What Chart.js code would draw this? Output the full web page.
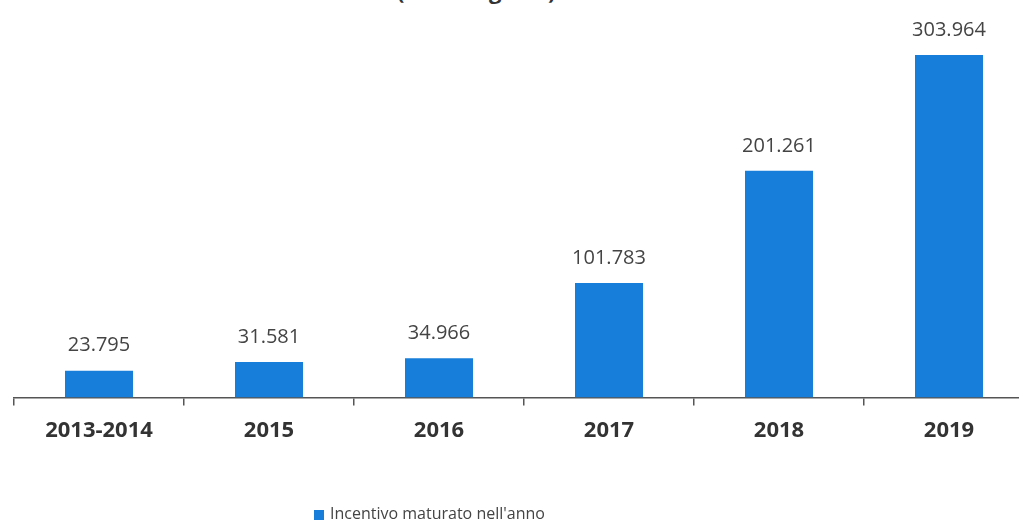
<!DOCTYPE html>
<html>
<head>
<meta charset="utf-8">
<script src="https://cdn.jsdelivr.net/npm/chart.js@4"></script>
<style>
html, body { margin: 0; padding: 0; background: #fff; overflow: hidden; }
#wrap { position: relative; width: 1019px; height: 521px; overflow: hidden; }
#box { position: absolute; left: 0; top: 0; width: 1034px; height: 521px; }
#title { position: absolute; top: -25px; left: 397px; font: bold 22px "Open Sans", sans-serif; color: #333; }
#legend { position: absolute; top: 502px; left: 314px; font: 16px "Open Sans", sans-serif; color: #444; white-space: nowrap; }
#legend span { display: inline-block; width: 10px; height: 10px; background: #177fd9; margin-right: 6px; vertical-align: -1px; }
</style>
</head>
<body>
<div id="wrap">
<div id="title">(Euro migliaia)</div>
<div id="box"><canvas id="myChart" width="1034" height="521"></canvas></div>
<div id="legend"><span></span>Incentivo maturato nell'anno</div>
</div>
<script>
const labels = ['2013-2014', '2015', '2016', '2017', '2018', '2019'];
const values = [23.795, 31.581, 34.966, 101.783, 201.261, 303.964];
const barColor = '#177fd9';

// writes the value over each bar, italian style (dot as thousands separator)
const valueLabels = {
id: 'valueLabels',
afterDatasetsDraw(chart) {
const ctx = chart.ctx;
const meta = chart.getDatasetMeta(0);
ctx.save();
ctx.font = '20px "Open Sans", sans-serif';
ctx.fillStyle = '#444';
ctx.textAlign = 'center';
ctx.textBaseline = 'middle';
meta.data.forEach((bar, i) => {
ctx.fillText(values[i].toFixed(3), bar.x, bar.y - 25);
});
ctx.restore();
}
};

const data = {
labels: labels,
datasets: [{
label: "Incentivo maturato nell'anno",
data: values,
backgroundColor: barColor,
borderWidth: 0,
barPercentage: 0.4,
categoryPercentage: 1
}]
};

const config = {
type: 'bar',
data: data,
options: {
responsive: false,
animation: false,
layout: {
padding: { left: 14, right: 0, top: 37, bottom: 65 }
},
plugins: {
legend: { display: false },
tooltip: { enabled: false }
},
scales: {
x: {
grid: {
drawOnChartArea: false,
tickLength: 8,
color: '#555',
lineWidth: 1.5
},
border: { color: '#555', width: 1.5 },
ticks: {
color: '#333',
padding: 12,
font: { family: '"Open Sans", sans-serif', size: 22, weight: 'bold' }
}
},
y: {
display: false,
min: 0,
max: 320
}
}
},
plugins: [valueLabels]
};

const myChart = new Chart(document.getElementById('myChart'), config);
</script>
</body>
</html>
